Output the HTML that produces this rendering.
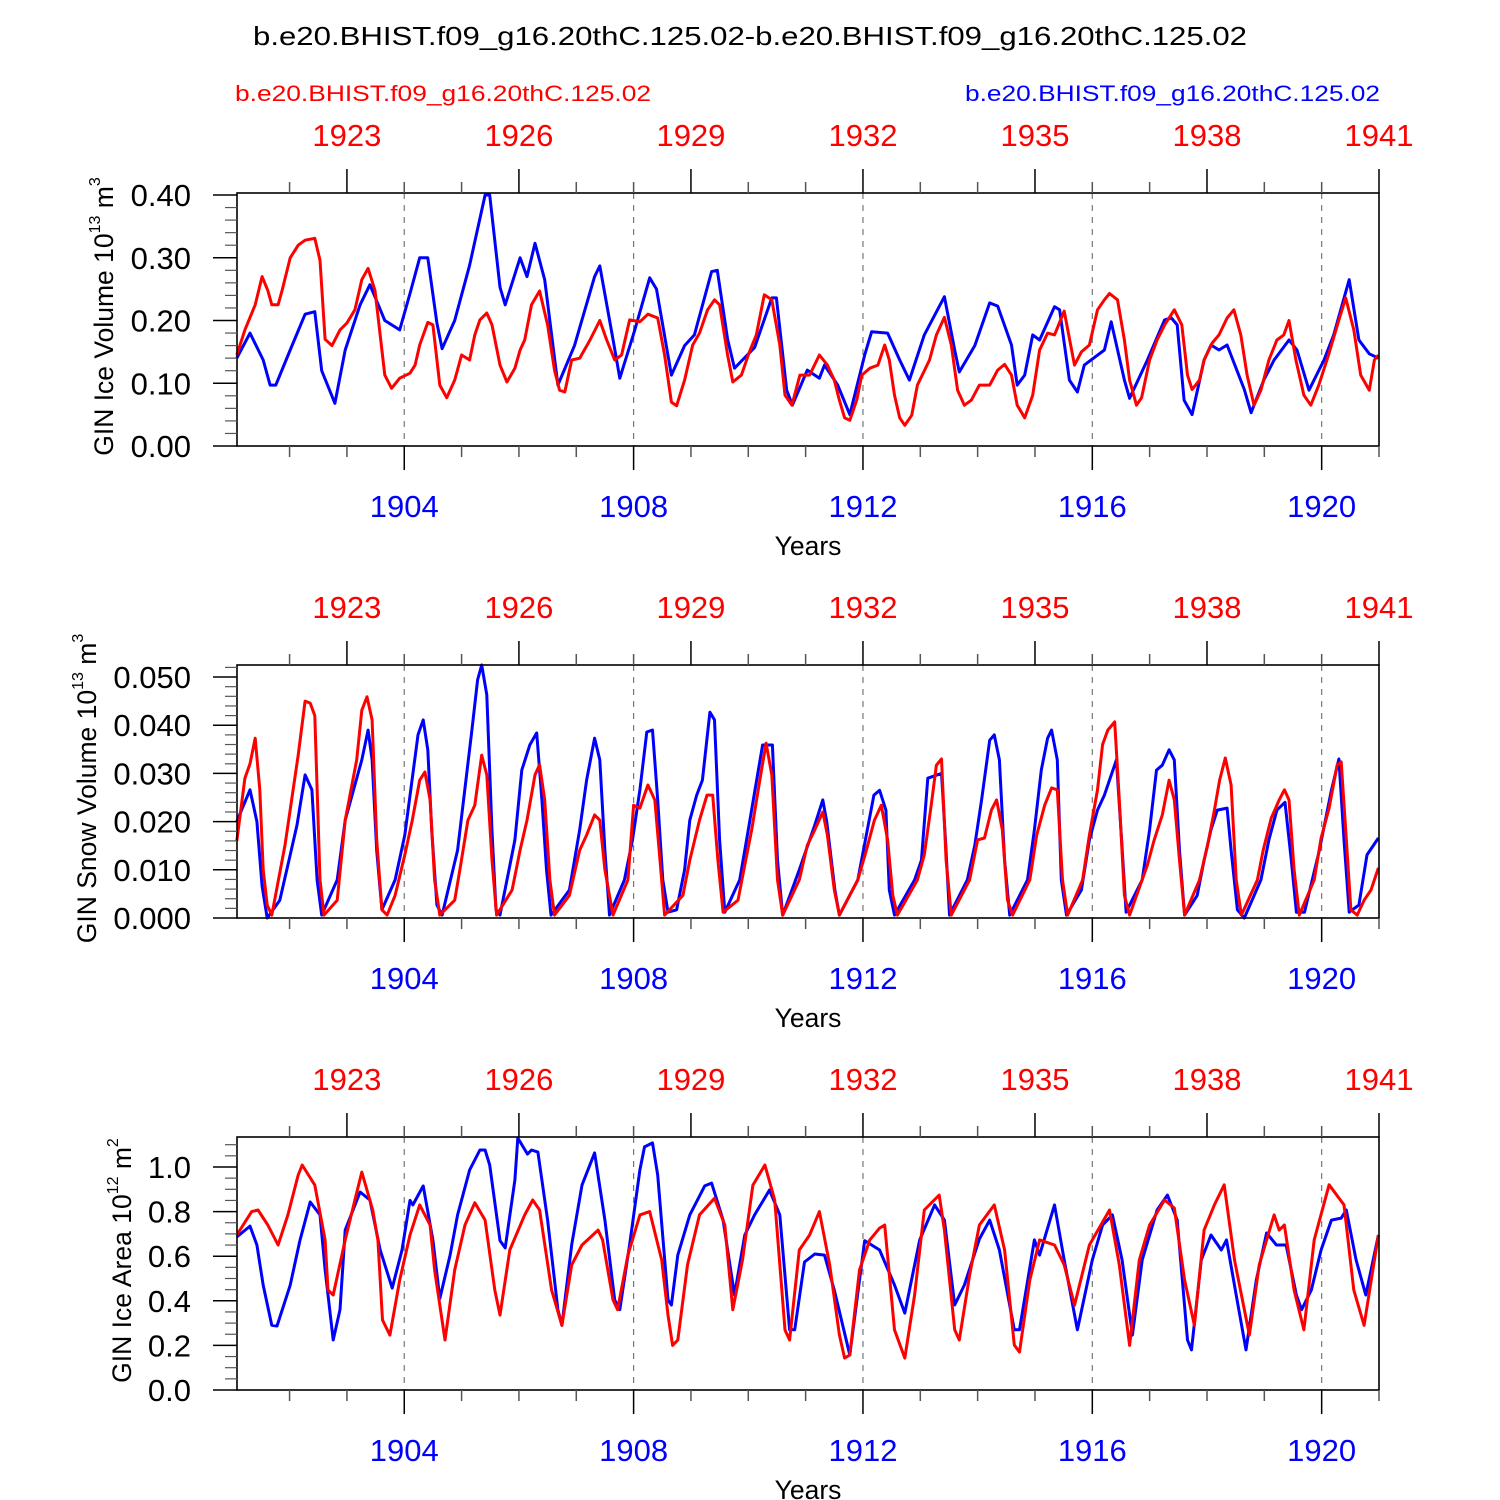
<!DOCTYPE html>
<html><head><meta charset="utf-8"><style>
html,body{margin:0;padding:0;background:#fff;}
svg{display:block;font-family:"Liberation Sans",Arial,sans-serif;}
</style></head><body>
<svg id="chart" width="1500" height="1500" viewBox="0 0 1500 1500" xmlns="http://www.w3.org/2000/svg">
<text x="253" y="45" font-size="26" textLength="994" lengthAdjust="spacingAndGlyphs">b.e20.BHIST.f09_g16.20thC.125.02-b.e20.BHIST.f09_g16.20thC.125.02</text>
<text x="235" y="101" font-size="22" fill="#ff0000" textLength="416" lengthAdjust="spacingAndGlyphs">b.e20.BHIST.f09_g16.20thC.125.02</text>
<text x="965" y="101" font-size="22" fill="#0000ff" textLength="415" lengthAdjust="spacingAndGlyphs">b.e20.BHIST.f09_g16.20thC.125.02</text>
</svg>
<script>
// ---------- data ----------
const bottomTicks = [1904, 1908, 1912, 1916, 1920];
const topTicks = [1923, 1926, 1929, 1932, 1935, 1938, 1941];
const topOffset = 20;

const iceVolBlueT = [1901.08,1901.31,1901.54,1901.66,1901.76,1902.01,1902.27,1902.44,1902.56,1902.79,1902.97,1903.23,1903.40,1903.66,1903.92,1904.10,1904.27,1904.41,1904.57,1904.66,1904.88,1905.14,1905.41,1905.49,1905.67,1905.76,1906.02,1906.14,1906.28,1906.45,1906.68,1906.97,1907.32,1907.41,1907.64,1907.76,1908.02,1908.28,1908.40,1908.66,1908.89,1909.06,1909.36,1909.46,1909.64,1909.76,1910.11,1910.41,1910.49,1910.67,1910.77,1911.03,1911.24,1911.33,1911.56,1911.77,1912.03,1912.15,1912.43,1912.64,1912.81,1913.07,1913.42,1913.60,1913.68,1913.95,1914.21,1914.35,1914.59,1914.69,1914.82,1914.96,1915.08,1915.34,1915.43,1915.60,1915.74,1915.86,1916.21,1916.33,1916.56,1916.65,1916.96,1917.26,1917.38,1917.48,1917.60,1917.74,1917.95,1918.07,1918.21,1918.35,1918.65,1918.77,1918.99,1919.17,1919.43,1919.57,1919.78,1920.04,1920.21,1920.48,1920.65,1920.83,1920.99];
const iceVolBlueV = [0.14,0.18,0.137,0.097,0.097,0.153,0.21,0.214,0.12,0.068,0.153,0.225,0.257,0.20,0.185,0.243,0.30,0.30,0.196,0.155,0.20,0.288,0.40,0.40,0.253,0.225,0.30,0.27,0.323,0.265,0.097,0.16,0.27,0.287,0.17,0.108,0.185,0.268,0.25,0.113,0.16,0.177,0.278,0.28,0.17,0.124,0.157,0.236,0.236,0.089,0.065,0.121,0.108,0.129,0.097,0.05,0.145,0.182,0.180,0.137,0.105,0.177,0.238,0.153,0.118,0.16,0.228,0.223,0.161,0.097,0.113,0.177,0.169,0.222,0.217,0.105,0.086,0.129,0.153,0.198,0.105,0.076,0.137,0.201,0.204,0.193,0.073,0.05,0.137,0.161,0.153,0.161,0.09,0.053,0.105,0.137,0.169,0.153,0.089,0.137,0.177,0.265,0.169,0.147,0.14];

const iceVolRedT = [1901.08,1901.22,1901.40,1901.52,1901.62,1901.69,1901.80,1901.87,1902.01,1902.15,1902.27,1902.44,1902.53,1902.62,1902.74,1902.88,1903.0,1903.14,1903.26,1903.37,1903.49,1903.66,1903.78,1903.92,1904.10,1904.19,1904.27,1904.41,1904.50,1904.62,1904.74,1904.88,1905.0,1905.14,1905.23,1905.32,1905.44,1905.53,1905.67,1905.79,1905.93,1906.02,1906.10,1906.22,1906.36,1906.50,1906.62,1906.71,1906.80,1906.92,1907.06,1907.24,1907.41,1907.53,1907.67,1907.79,1907.93,1908.11,1908.25,1908.42,1908.54,1908.66,1908.75,1908.89,1909.03,1909.15,1909.29,1909.41,1909.50,1909.64,1909.73,1909.88,1910.02,1910.14,1910.28,1910.41,1910.55,1910.64,1910.76,1910.90,1911.07,1911.24,1911.38,1911.50,1911.59,1911.68,1911.77,1911.89,1911.98,1912.12,1912.26,1912.38,1912.46,1912.55,1912.64,1912.73,1912.85,1912.95,1913.16,1913.28,1913.42,1913.54,1913.65,1913.77,1913.89,1914.03,1914.21,1914.35,1914.47,1914.59,1914.69,1914.82,1914.96,1915.08,1915.22,1915.34,1915.51,1915.69,1915.81,1915.95,1916.09,1916.21,1916.30,1916.44,1916.56,1916.65,1916.77,1916.86,1917.0,1917.13,1917.26,1917.43,1917.56,1917.66,1917.74,1917.87,1917.95,1918.09,1918.21,1918.35,1918.47,1918.59,1918.70,1918.82,1918.94,1919.08,1919.22,1919.34,1919.43,1919.55,1919.69,1919.81,1919.95,1920.12,1920.30,1920.42,1920.56,1920.68,1920.83,1920.92,1920.99];
const iceVolRedV = [0.145,0.185,0.225,0.27,0.248,0.225,0.225,0.248,0.30,0.32,0.328,0.331,0.296,0.17,0.16,0.185,0.196,0.217,0.265,0.283,0.248,0.113,0.092,0.108,0.116,0.129,0.161,0.197,0.193,0.097,0.077,0.105,0.145,0.137,0.177,0.201,0.212,0.193,0.129,0.102,0.124,0.153,0.169,0.225,0.247,0.193,0.121,0.089,0.086,0.137,0.14,0.169,0.20,0.169,0.137,0.145,0.201,0.198,0.21,0.204,0.145,0.07,0.064,0.105,0.161,0.18,0.217,0.233,0.225,0.145,0.102,0.113,0.15,0.177,0.241,0.233,0.161,0.081,0.065,0.113,0.113,0.145,0.129,0.105,0.073,0.045,0.041,0.073,0.113,0.124,0.129,0.161,0.137,0.081,0.045,0.033,0.049,0.097,0.137,0.177,0.205,0.161,0.089,0.065,0.073,0.097,0.097,0.121,0.13,0.113,0.065,0.045,0.081,0.153,0.18,0.177,0.215,0.129,0.15,0.161,0.217,0.233,0.243,0.233,0.169,0.105,0.065,0.077,0.137,0.169,0.193,0.217,0.193,0.113,0.09,0.105,0.137,0.164,0.177,0.204,0.217,0.177,0.113,0.065,0.089,0.137,0.169,0.177,0.20,0.137,0.081,0.065,0.097,0.145,0.201,0.236,0.185,0.113,0.089,0.137,0.145];

const snowBlueT = [1901.08,1901.31,1901.43,1901.52,1901.61,1901.83,1902.01,1902.13,1902.27,1902.39,1902.48,1902.56,1902.83,1902.97,1903.26,1903.37,1903.44,1903.52,1903.61,1903.84,1904.01,1904.24,1904.33,1904.41,1904.48,1904.57,1904.66,1904.93,1905.18,1905.28,1905.35,1905.44,1905.53,1905.60,1905.67,1905.93,1906.05,1906.19,1906.31,1906.40,1906.48,1906.56,1906.88,1907.06,1907.18,1907.32,1907.41,1907.50,1907.58,1907.84,1907.98,1908.11,1908.23,1908.33,1908.42,1908.51,1908.60,1908.75,1908.89,1908.98,1909.10,1909.20,1909.33,1909.41,1909.50,1909.59,1909.85,1909.99,1910.11,1910.25,1910.42,1910.51,1910.60,1910.89,1911.16,1911.30,1911.37,1911.51,1911.59,1911.91,1912.19,1912.29,1912.40,1912.46,1912.55,1912.90,1913.02,1913.13,1913.37,1913.44,1913.51,1913.82,1913.95,1914.07,1914.21,1914.29,1914.38,1914.47,1914.56,1914.87,1914.99,1915.11,1915.22,1915.29,1915.39,1915.46,1915.55,1915.81,1915.95,1916.09,1916.21,1916.42,1916.51,1916.59,1916.87,1917.00,1917.12,1917.22,1917.34,1917.43,1917.52,1917.61,1917.83,1917.95,1918.07,1918.18,1918.35,1918.42,1918.53,1918.65,1918.94,1919.08,1919.22,1919.36,1919.47,1919.56,1919.70,1919.96,1920.17,1920.30,1920.39,1920.48,1920.65,1920.79,1920.99];
const snowBlueV = [0.020,0.0266,0.020,0.0066,0.0,0.0037,0.0131,0.0193,0.0297,0.0266,0.0079,0.0006,0.0079,0.0203,0.0328,0.039,0.0328,0.014,0.0017,0.0079,0.0172,0.0380,0.0411,0.0349,0.018,0.0027,0.0006,0.0141,0.0390,0.0494,0.0525,0.0463,0.018,0.0017,0.0006,0.0162,0.0307,0.0359,0.0384,0.0245,0.0100,0.0006,0.0058,0.0183,0.0286,0.0373,0.0328,0.014,0.0006,0.0079,0.0162,0.0266,0.0386,0.039,0.0245,0.0079,0.0012,0.0017,0.010,0.0203,0.0255,0.0286,0.0427,0.0411,0.0162,0.0012,0.0079,0.0176,0.0261,0.0359,0.0359,0.0120,0.0006,0.010,0.0193,0.0245,0.0199,0.0058,0.0006,0.0079,0.0255,0.0265,0.0224,0.0058,0.0006,0.0079,0.0120,0.029,0.030,0.0161,0.0006,0.0079,0.0151,0.0245,0.0369,0.0380,0.0328,0.0120,0.0006,0.0079,0.0183,0.0307,0.0373,0.039,0.0328,0.0079,0.0006,0.0058,0.0162,0.0224,0.0255,0.0328,0.0162,0.0012,0.0079,0.0183,0.0307,0.0317,0.0349,0.0328,0.014,0.0006,0.0047,0.0120,0.0183,0.0224,0.0228,0.0141,0.0017,0.0,0.0079,0.0162,0.0224,0.0240,0.0120,0.0012,0.0012,0.0141,0.0265,0.033,0.0162,0.0012,0.0027,0.0131,0.0166];

const snowRedT = [1901.08,1901.22,1901.31,1901.40,1901.48,1901.54,1901.61,1901.69,1901.92,1902.15,1902.27,1902.36,1902.44,1902.53,1902.60,1902.83,1902.97,1903.17,1903.26,1903.35,1903.44,1903.52,1903.61,1903.70,1903.84,1904.01,1904.14,1904.27,1904.36,1904.45,1904.53,1904.62,1904.88,1904.97,1905.11,1905.23,1905.35,1905.44,1905.53,1905.61,1905.88,1906.02,1906.14,1906.28,1906.36,1906.45,1906.54,1906.62,1906.88,1907.06,1907.18,1907.32,1907.41,1907.50,1907.64,1907.90,1908.00,1908.11,1908.25,1908.37,1908.46,1908.54,1908.86,1908.98,1909.15,1909.28,1909.38,1909.47,1909.56,1909.82,1909.94,1910.06,1910.20,1910.31,1910.41,1910.51,1910.60,1910.89,1911.03,1911.16,1911.30,1911.38,1911.50,1911.59,1911.91,1912.06,1912.20,1912.32,1912.43,1912.52,1912.60,1912.95,1913.07,1913.19,1913.28,1913.37,1913.45,1913.54,1913.86,1914.00,1914.12,1914.24,1914.33,1914.43,1914.52,1914.61,1914.91,1915.03,1915.17,1915.29,1915.39,1915.48,1915.57,1915.83,1915.95,1916.09,1916.18,1916.27,1916.39,1916.47,1916.56,1916.65,1916.96,1917.08,1917.22,1917.34,1917.43,1917.52,1917.61,1917.87,1918.01,1918.13,1918.22,1918.32,1918.42,1918.51,1918.60,1918.88,1918.98,1919.12,1919.26,1919.35,1919.43,1919.52,1919.61,1919.87,1919.99,1920.13,1920.27,1920.34,1920.42,1920.51,1920.62,1920.74,1920.86,1920.99];
const snowRedV = [0.016,0.029,0.032,0.0373,0.0266,0.0100,0.0027,0.0006,0.0151,0.0338,0.045,0.0446,0.042,0.0079,0.0006,0.0037,0.0203,0.0328,0.0431,0.0459,0.0411,0.0162,0.0017,0.0006,0.0047,0.0131,0.0203,0.0286,0.0303,0.0245,0.0079,0.0006,0.0037,0.010,0.0203,0.0234,0.0338,0.0297,0.0120,0.0006,0.0058,0.0141,0.0203,0.0297,0.0318,0.0245,0.0079,0.0006,0.0047,0.0141,0.0172,0.0214,0.0203,0.010,0.0006,0.0079,0.0234,0.0228,0.0276,0.0245,0.0120,0.0006,0.0047,0.0120,0.0203,0.0255,0.0255,0.0120,0.0012,0.0037,0.0110,0.0183,0.0286,0.0363,0.0297,0.0079,0.0006,0.0079,0.0151,0.0183,0.022,0.0172,0.0058,0.0006,0.0079,0.0141,0.0203,0.0234,0.0162,0.0047,0.0006,0.0079,0.0131,0.0234,0.0317,0.033,0.0120,0.0006,0.0079,0.0162,0.0166,0.0224,0.0245,0.0183,0.0037,0.0006,0.0079,0.0172,0.0234,0.0270,0.0266,0.0079,0.0006,0.0079,0.0172,0.0266,0.036,0.0390,0.0407,0.0245,0.0047,0.0006,0.0110,0.0162,0.0214,0.0286,0.0245,0.0120,0.0006,0.0079,0.0151,0.0224,0.0286,0.0332,0.0276,0.0079,0.0006,0.0079,0.0141,0.0207,0.0245,0.0266,0.0245,0.0100,0.0006,0.0079,0.0166,0.0228,0.0317,0.0324,0.0183,0.0017,0.0006,0.0037,0.0058,0.0104];

const areaBlueT = [1901.08,1901.31,1901.43,1901.54,1901.69,1901.78,1902.01,1902.18,1902.36,1902.53,1902.62,1902.76,1902.88,1902.97,1903.23,1903.40,1903.58,1903.79,1903.96,1904.10,1904.15,1904.33,1904.50,1904.62,1904.80,1904.93,1905.14,1905.32,1905.41,1905.49,1905.67,1905.76,1905.93,1905.98,1906.15,1906.22,1906.33,1906.50,1906.68,1906.75,1906.92,1907.10,1907.32,1907.50,1907.67,1907.76,1907.93,1908.11,1908.19,1908.33,1908.42,1908.60,1908.66,1908.77,1908.98,1909.24,1909.36,1909.56,1909.76,1909.94,1910.11,1910.37,1910.55,1910.72,1910.81,1910.98,1911.16,1911.33,1911.50,1911.77,1911.94,1912.03,1912.29,1912.55,1912.73,1912.99,1913.25,1913.42,1913.60,1913.77,1914.03,1914.21,1914.38,1914.64,1914.73,1914.99,1915.08,1915.34,1915.51,1915.74,1916.00,1916.18,1916.35,1916.52,1916.70,1916.87,1917.13,1917.31,1917.48,1917.66,1917.73,1917.90,1918.07,1918.25,1918.34,1918.51,1918.68,1918.86,1919.04,1919.21,1919.38,1919.56,1919.65,1919.82,1919.99,1920.17,1920.34,1920.43,1920.60,1920.77,1920.99];
const areaBlueV = [0.686,0.735,0.65,0.47,0.29,0.287,0.47,0.67,0.843,0.785,0.54,0.224,0.36,0.717,0.888,0.852,0.628,0.457,0.628,0.85,0.83,0.915,0.673,0.41,0.605,0.785,0.986,1.076,1.076,1.009,0.67,0.637,0.942,1.13,1.058,1.076,1.067,0.762,0.36,0.29,0.651,0.919,1.063,0.762,0.404,0.36,0.651,0.987,1.09,1.108,0.964,0.404,0.381,0.605,0.785,0.915,0.928,0.762,0.426,0.695,0.785,0.897,0.785,0.27,0.27,0.574,0.61,0.605,0.448,0.157,0.493,0.67,0.628,0.471,0.345,0.673,0.83,0.762,0.381,0.471,0.677,0.762,0.628,0.27,0.27,0.673,0.605,0.83,0.583,0.27,0.583,0.74,0.785,0.583,0.246,0.583,0.807,0.874,0.762,0.224,0.18,0.583,0.695,0.628,0.673,0.426,0.18,0.493,0.704,0.65,0.65,0.426,0.36,0.448,0.628,0.762,0.771,0.807,0.583,0.426,0.695];

const areaRedT = [1901.08,1901.34,1901.45,1901.62,1901.80,1901.97,1902.15,1902.22,1902.44,1902.62,1902.67,1902.76,1902.97,1903.14,1903.26,1903.45,1903.54,1903.62,1903.75,1903.92,1904.10,1904.27,1904.45,1904.53,1904.71,1904.88,1905.06,1905.23,1905.41,1905.58,1905.67,1905.84,1906.10,1906.24,1906.36,1906.57,1906.75,1906.92,1907.10,1907.38,1907.46,1907.64,1907.72,1907.90,1908.11,1908.28,1908.49,1908.60,1908.68,1908.77,1908.94,1909.15,1909.41,1909.59,1909.73,1909.90,1910.08,1910.29,1910.46,1910.64,1910.72,1910.89,1911.07,1911.24,1911.42,1911.59,1911.68,1911.77,1911.94,1912.12,1912.29,1912.38,1912.55,1912.73,1912.90,1913.07,1913.33,1913.42,1913.60,1913.68,1913.86,1914.03,1914.29,1914.47,1914.64,1914.73,1914.91,1915.08,1915.34,1915.51,1915.69,1915.95,1916.30,1916.47,1916.65,1916.82,1917.00,1917.26,1917.43,1917.61,1917.78,1917.95,1918.13,1918.30,1918.48,1918.74,1918.91,1919.17,1919.26,1919.35,1919.52,1919.69,1919.87,1920.13,1920.39,1920.56,1920.74,1920.99];
const areaRedV = [0.695,0.80,0.807,0.74,0.65,0.785,0.964,1.009,0.919,0.673,0.448,0.426,0.673,0.852,0.977,0.807,0.673,0.314,0.246,0.493,0.695,0.83,0.74,0.538,0.224,0.538,0.74,0.84,0.762,0.448,0.336,0.628,0.785,0.852,0.807,0.448,0.29,0.561,0.65,0.717,0.673,0.404,0.36,0.605,0.785,0.80,0.583,0.336,0.20,0.224,0.561,0.785,0.86,0.74,0.36,0.583,0.919,1.009,0.852,0.269,0.224,0.628,0.695,0.80,0.561,0.247,0.143,0.157,0.538,0.673,0.726,0.74,0.27,0.143,0.426,0.807,0.874,0.717,0.27,0.224,0.515,0.74,0.83,0.628,0.202,0.17,0.493,0.673,0.65,0.561,0.38,0.65,0.807,0.561,0.20,0.583,0.74,0.852,0.816,0.493,0.29,0.717,0.83,0.92,0.583,0.246,0.561,0.785,0.717,0.74,0.448,0.27,0.673,0.92,0.83,0.448,0.29,0.695];

const p1Ticks = [0.0,0.1,0.2,0.3,0.4];
const p1Labels = ["0.00","0.10","0.20","0.30","0.40"];
const p2Ticks = [0.0,0.01,0.02,0.03,0.04,0.05];
const p2Labels = ["0.000","0.010","0.020","0.030","0.040","0.050"];
const p3Ticks = [0.0,0.2,0.4,0.6,0.8,1.0];
const p3Labels = ["0.0","0.2","0.4","0.6","0.8","1.0"];

// ---------- drawing ----------
const NS = "http://www.w3.org/2000/svg";
const svg = document.getElementById('chart');
const X0 = 237, X1 = 1379, TMIN = 1901.083, TMAX = 1921.0;
function xs(t){ return X0 + (t - TMIN) / (TMAX - TMIN) * (X1 - X0); }
function mk(tag, attrs, parent){
  const e = document.createElementNS(NS, tag);
  for (const k in attrs) e.setAttribute(k, attrs[k]);
  (parent || svg).appendChild(e);
  return e;
}

const panels = [
  {name:'ice-volume', top:193, bot:446, ymax:0.4032, minor:0.02, ticks:p1Ticks, labels:p1Labels,
   title:['GIN Ice Volume 10','13',' m','3'], titleX:113, series:[[iceVolBlueT,iceVolBlueV,'#0000ff','blue'],[iceVolRedT,iceVolRedV,'#ff0000','red']]},
  {name:'snow-volume', top:665, bot:918, ymax:0.0525, minor:0.002, ticks:p2Ticks, labels:p2Labels,
   title:['GIN Snow Volume 10','13',' m','3'], titleX:96, series:[[snowBlueT,snowBlueV,'#0000ff','blue'],[snowRedT,snowRedV,'#ff0000','red']]},
  {name:'ice-area', top:1137, bot:1390, ymax:1.1345, minor:0.05, ticks:p3Ticks, labels:p3Labels,
   title:['GIN Ice Area 10','12',' m','2'], titleX:131, series:[[areaBlueT,areaBlueV,'#0000ff','blue'],[areaRedT,areaRedV,'#ff0000','red']]}
];

panels.forEach(function(p){
  const g = mk('g', {});
  
  
  function ys(v){ return p.bot - v / p.ymax * (p.bot - p.top); }
  bottomTicks.forEach(function(t){
    const l = mk('line', {x1:xs(t), x2:xs(t), y1:p.top, y2:p.bot, stroke:'#777', 'stroke-width':1.2, 'stroke-dasharray':'6,6'}, g);
    
    
  });
  p.series.forEach(function(s){
    let d = '';
    for (let i = 0; i < s[0].length; i++) d += (i ? 'L' : 'M') + xs(s[0][i]).toFixed(1) + ',' + ys(s[1][i]).toFixed(1);
    const path = mk('path', {d:d, fill:'none', stroke:s[2], 'stroke-width':3, 'stroke-linejoin':'round'}, g);
    
    
  });
  const fr = mk('rect', {x:X0, y:p.top, width:X1-X0, height:p.bot-p.top, fill:'none', stroke:'#000', 'stroke-width':1.6}, g);
  
  
  for (let v = 0; v <= p.ymax + 1e-9; v += p.minor) {
    const isMaj = p.ticks.some(function(t){ return Math.abs(t - v) < p.minor/10; });
    mk('line', {x1:isMaj ? 213 : 225, x2:X0, y1:ys(v), y2:ys(v), stroke:isMaj ? '#000' : '#555', 'stroke-width':isMaj?1.5:1.2}, g);
  }
  p.ticks.forEach(function(v, i){
    const t = mk('text', {x:191, y:ys(v)+11, 'font-size':31, 'text-anchor':'end'}, g);
    t.textContent = p.labels[i];
    
    
  });
  for (let yr = 1902; yr <= 1921; yr++) {
    const maj = bottomTicks.indexOf(yr) >= 0;
    mk('line', {x1:xs(yr), x2:xs(yr), y1:p.bot, y2:p.bot + (maj ? 24 : 11), stroke:maj?'#000':'#555', 'stroke-width':1.5}, g);
  }
  bottomTicks.forEach(function(yr){
    const t = mk('text', {x:xs(yr), y:p.bot+71, 'font-size':31, fill:'#0000ff', 'text-anchor':'middle'}, g);
    t.textContent = String(yr);
    
    
  });
  for (let yr = 1922; yr <= 1941; yr++) {
    const maj = topTicks.indexOf(yr) >= 0;
    mk('line', {x1:xs(yr - topOffset), x2:xs(yr - topOffset), y1:p.top, y2:p.top - (maj ? 24 : 11), stroke:maj?'#000':'#555', 'stroke-width':1.5}, g);
  }
  topTicks.forEach(function(yr){
    const t = mk('text', {x:xs(yr - topOffset), y:p.top-47, 'font-size':31, fill:'#ff0000', 'text-anchor':'middle'}, g);
    t.textContent = String(yr);
    
    
  });
  const xt = mk('text', {x:808, y:p.bot+109, 'font-size':26.5, 'text-anchor':'middle'}, g);
  xt.textContent = 'Years';
  
  
  const cy = (p.top + p.bot) / 2 - 3;
  const yt = mk('text', {x:0, y:0, 'font-size':26.5, 'text-anchor':'middle', transform:'translate(' + p.titleX + ',' + cy + ') rotate(-90)'}, g);
  
  
  const a = mk('tspan', {}, yt); a.textContent = p.title[0];
  const b = mk('tspan', {dy:-13, 'font-size':16}, yt); b.textContent = p.title[1];
  const c = mk('tspan', {dy:13}, yt); c.textContent = p.title[2];
  const d2 = mk('tspan', {dy:-13, 'font-size':16}, yt); d2.textContent = p.title[3];
});
</script>
</body></html>
